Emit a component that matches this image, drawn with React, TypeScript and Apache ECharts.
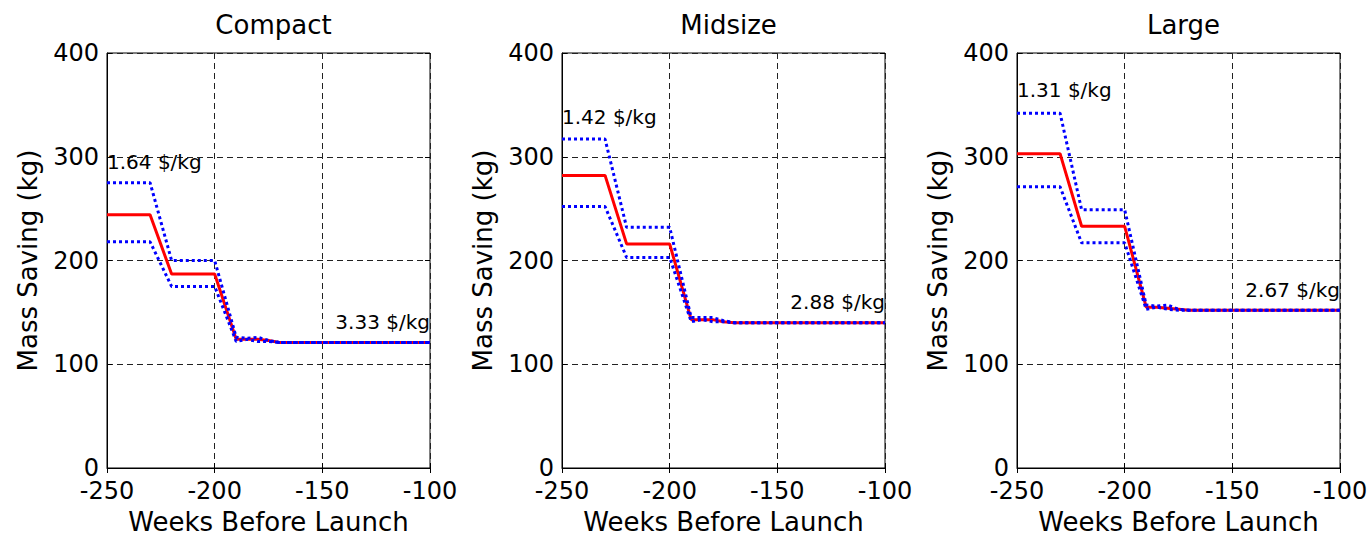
import React, { useEffect, useRef } from "react";
import * as echarts from "echarts";

const weeks = [-250, -230, -220, -200, -190, -185, -180, -175, -170, -100];

const panelTitles = ["Compact", "Midsize", "Large"];

const compactMean = [244, 244, 187, 187, 124, 124, 124, 123, 121, 121];
const compactUpper = [275, 275, 200, 200, 126, 125, 126, 123, 121, 121];
const compactLower = [218, 218, 175, 175, 122, 124, 122, 122, 121, 121];

const midsizeMean = [282, 282, 216, 216, 143, 143, 143, 141, 140, 140];
const midsizeUpper = [317, 317, 232, 232, 145, 145, 145, 142, 140, 140];
const midsizeLower = [252, 252, 203, 203, 141, 143, 141, 141, 140, 140];

const largeMean = [303, 303, 233, 233, 155, 155, 154, 153, 152, 152];
const largeUpper = [342, 342, 249, 249, 157, 156, 157, 153, 152, 152];
const largeLower = [271, 271, 217, 217, 153, 155, 153, 152, 152, 152];

// annotation: [label, week, kg]
const leftNotes: [string, number, number][] = [
  ["1.64 $/kg", -250, 295],
  ["1.42 $/kg", -250, 338],
  ["1.31 $/kg", -250, 364],
];
const rightNotes: [string, number, number][] = [
  ["3.33 $/kg", -100, 141],
  ["2.88 $/kg", -100, 160],
  ["2.67 $/kg", -100, 172],
];

const means = [compactMean, midsizeMean, largeMean];
const uppers = [compactUpper, midsizeUpper, largeUpper];
const lowers = [compactLower, midsizeLower, largeLower];

const FONT = "'DejaVu Sans', 'Liberation Sans', Arial, sans-serif";
const gridLefts = [107, 562, 1017];
const GRID_W = 323;
const GRID_TOP = 53;
const GRID_H = 415;

const pair = (ys: number[]) => weeks.map((w, i) => [w, ys[i]]);

export default function App() {
  const ref = useRef<HTMLDivElement>(null);
  useEffect(() => {
    if (!ref.current) return;
    const chart = echarts.init(ref.current, undefined, { renderer: "svg" });
    const grids: any[] = [];
    const xAxes: any[] = [];
    const yAxes: any[] = [];
    const series: any[] = [];
    const titles: any[] = [];
    const tick = { show: true, inside: true, length: 5, lineStyle: { color: "#000" } };
    const split = { show: true, lineStyle: { color: "#222", type: [6, 4], width: 1 } };
    for (let p = 0; p < 3; p++) {
      grids.push({
        left: gridLefts[p],
        top: GRID_TOP,
        width: GRID_W,
        height: GRID_H,
        show: true,
        borderColor: "#000",
        borderWidth: 1,
        backgroundColor: "#fff",
      });
      titles.push({
        text: panelTitles[p],
        left: gridLefts[p] + GRID_W / 2,
        top: 7,
        textAlign: "center",
        textStyle: { fontFamily: FONT, fontSize: 26, fontWeight: "normal", color: "#000" },
      });
      xAxes.push({
        type: "value",
        gridIndex: p,
        min: -250,
        max: -100,
        interval: 50,
        name: "Weeks Before Launch",
        nameLocation: "middle",
        nameGap: 41,
        nameTextStyle: { fontFamily: FONT, fontSize: 26, color: "#000" },
        axisLine: { show: true, onZero: false, lineStyle: { color: "#000", width: 1 } },
        axisTick: tick,
        axisLabel: { fontFamily: FONT, fontSize: 24, color: "#000", margin: 11 },
        splitLine: split,
      });
      xAxes.push({
        type: "value",
        gridIndex: p,
        position: "top",
        min: -250,
        max: -100,
        interval: 50,
        axisLine: { show: false },
        axisTick: tick,
        axisLabel: { show: false },
        splitLine: { show: false },
      });
      yAxes.push({
        type: "value",
        gridIndex: p,
        min: 0,
        max: 400,
        interval: 100,
        name: "Mass Saving (kg)",
        nameLocation: "middle",
        nameGap: 66,
        nameTextStyle: { fontFamily: FONT, fontSize: 26, color: "#000" },
        axisLine: { show: true, lineStyle: { color: "#000", width: 1 } },
        axisTick: tick,
        axisLabel: { fontFamily: FONT, fontSize: 24, color: "#000", margin: 8 },
        splitLine: split,
      });
      yAxes.push({
        type: "value",
        gridIndex: p,
        position: "right",
        min: 0,
        max: 400,
        interval: 100,
        axisLine: { show: false },
        axisTick: tick,
        axisLabel: { show: false },
        splitLine: { show: false },
      });
      const xi = p * 2;
      const yi = p * 2;
      const dotted = { color: "#0000ff", width: 3, type: [3, 3] as any, cap: "butt" };
      const noteLabel = (align: string) => ({
        show: true,
        position: "inside",
        align,
        verticalAlign: "middle",
        fontFamily: FONT,
        fontSize: 20,
        color: "#000",
      });
      series.push({
        type: "line",
        xAxisIndex: xi,
        yAxisIndex: yi,
        data: pair(means[p]),
        symbol: "none",
        lineStyle: { color: "#ff0000", width: 3 },
        z: 3,
      });
      series.push({
        type: "line",
        xAxisIndex: xi,
        yAxisIndex: yi,
        data: pair(uppers[p]),
        symbol: "none",
        lineStyle: dotted,
        z: 4,
      });
      series.push({
        type: "line",
        xAxisIndex: xi,
        yAxisIndex: yi,
        data: pair(lowers[p]),
        symbol: "none",
        lineStyle: dotted,
        z: 4,
        markPoint: {
          symbol: "circle",
          symbolSize: 0,
          silent: true,
          data: [
            {
              coord: [leftNotes[p][1], leftNotes[p][2]],
              label: { ...noteLabel("left"), formatter: leftNotes[p][0] },
            },
            {
              coord: [rightNotes[p][1], rightNotes[p][2]],
              label: { ...noteLabel("right"), formatter: rightNotes[p][0] },
            },
          ],
        },
      });
    }
    chart.setOption({
      animation: false,
      backgroundColor: "#fff",
      title: titles,
      grid: grids,
      xAxis: xAxes,
      yAxis: yAxes,
      series,
    });
    return () => chart.dispose();
  }, []);
  return (
    <div
      ref={ref}
      style={{ position: "fixed", left: 0, top: 0, width: 1371, height: 544, background: "#fff" }}
    />
  );
}
